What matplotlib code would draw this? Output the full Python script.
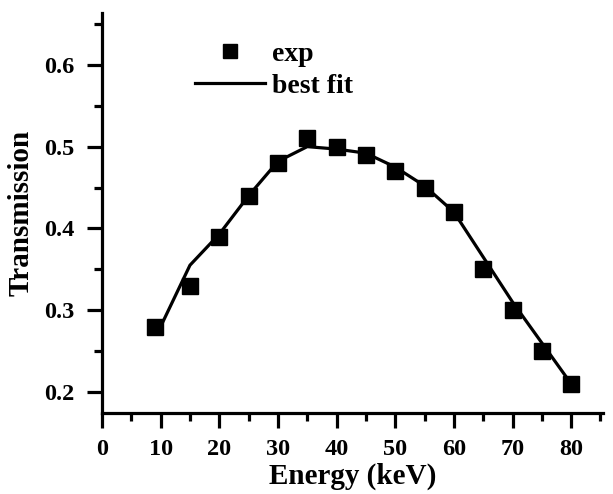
import matplotlib.pyplot as plt
from matplotlib.ticker import MultipleLocator

# measured points
energy_exp = [9, 15, 20, 25, 30, 35, 40, 45, 50, 55, 60, 65, 70, 75, 80]
trans_exp = [0.28, 0.33, 0.39, 0.44, 0.48, 0.51, 0.50, 0.49, 0.47, 0.45, 0.42, 0.35, 0.30, 0.25, 0.21]

# fitted curve
energy_fit = [10, 15, 20, 25, 30, 35, 40, 45, 50, 55, 60, 65, 70, 75, 80]
trans_fit = [0.28, 0.355, 0.393, 0.44, 0.482, 0.50, 0.497, 0.492, 0.475, 0.452, 0.42, 0.365, 0.31, 0.26, 0.21]

plt.rcParams["font.family"] = "Liberation Serif"
plt.rcParams["font.weight"] = "bold"

fig = plt.figure(figsize=(6.13, 4.94), dpi=100)
ax = fig.add_axes([0.1664, 0.164, 0.817, 0.81])

ax.plot(energy_fit, trans_fit, color="black", lw=2.3, label="best fit")
ax.plot(energy_exp, trans_exp, "s", color="black", ms=11, label="exp")

ax.set_xlim(0, 85.4)
ax.set_ylim(0.1743, 0.6636)
ax.xaxis.set_major_locator(MultipleLocator(10))
ax.xaxis.set_minor_locator(MultipleLocator(5))
ax.yaxis.set_major_locator(MultipleLocator(0.1))
ax.yaxis.set_minor_locator(MultipleLocator(0.05))
ax.yaxis.set_major_formatter(plt.FormatStrFormatter("%.1f"))

for side in ["top", "right"]:
    ax.spines[side].set_visible(False)
for side in ["left", "bottom"]:
    ax.spines[side].set_linewidth(2.3)
ax.tick_params(which="major", direction="out", length=11, width=2.3, labelsize=17.5)
ax.tick_params(which="minor", direction="out", length=5.5, width=2.3)
ax.tick_params(axis="x", which="major", pad=8)
ax.tick_params(axis="y", which="major", pad=9)

ax.set_xlabel("Energy (keV)", fontsize=21, fontweight="bold", labelpad=2)
ax.set_ylabel("Transmission", fontsize=21, fontweight="bold", labelpad=7)

h, l = ax.get_legend_handles_labels()
ax.legend(h[::-1], l[::-1], loc="upper left", bbox_to_anchor=(0.186, 0.928),
          frameon=False, fontsize=20, handlelength=2.5, handletextpad=0.25,
          labelspacing=0.22, borderpad=0, borderaxespad=0, markerscale=0.9)

plt.savefig("out.png", dpi=100)
